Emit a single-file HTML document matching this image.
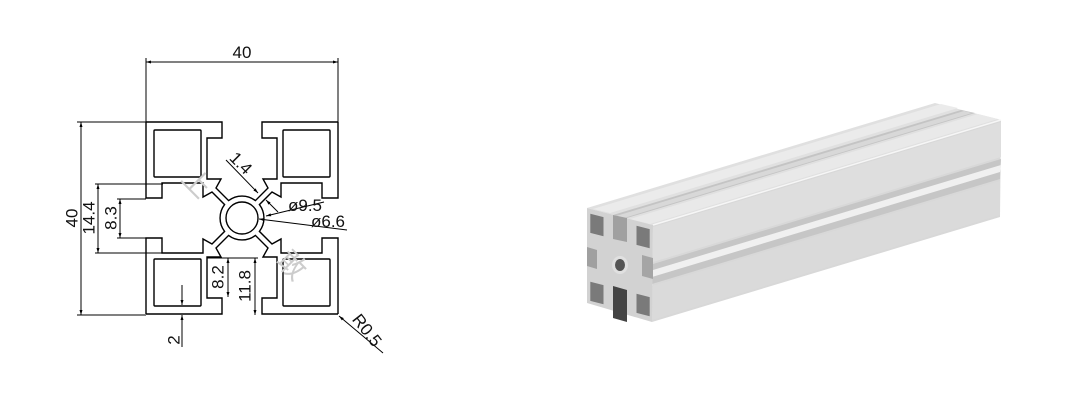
<!DOCTYPE html>
<html><head><meta charset="utf-8"><style>
html,body{margin:0;padding:0;background:#fff;width:1090px;height:400px;overflow:hidden}
svg{display:block}
text{font-family:"Liberation Sans","Noto Sans CJK SC",sans-serif;fill:#111}
</style></head><body>
<svg width="1090" height="400" viewBox="0 0 1090 400" xmlns="http://www.w3.org/2000/svg">
<defs>
<marker id="ar" viewBox="0 0 10 10" refX="10" refY="5" markerWidth="9" markerHeight="5" orient="auto-start-reverse" markerUnits="userSpaceOnUse">
<path d="M0,2 L10,5 L0,8 z" fill="#000"/></marker>
<g id="side" fill="none" stroke="#000" stroke-width="1.4">
<path d="M-96,-96 H-20 V-80 H-35 V-39 H-21 L-26,-30 L-13.4,-17.4 A22 22 0 0 1 13.4,-17.4 L26,-30 L21,-39 H35 V-80 H20 V-96 H96"/>
<rect x="-88" y="-88" width="47" height="47" rx="1"/>
</g>
</defs>

<g transform="translate(242,218)">
<use href="#side"/>
<use href="#side" transform="rotate(90)"/>
<use href="#side" transform="rotate(180)"/>
<use href="#side" transform="rotate(270)"/>
<circle r="16" fill="none" stroke="#000" stroke-width="1.4"/>
</g>

<g stroke="#000" stroke-width="1" fill="none">
<line x1="146" y1="58" x2="146" y2="122"/>
<line x1="338" y1="58" x2="338" y2="122"/>
<line x1="146" y1="62" x2="338" y2="62" marker-start="url(#ar)" marker-end="url(#ar)"/>
<line x1="77" y1="122" x2="146" y2="122"/>
<line x1="77" y1="315" x2="146" y2="315"/>
<line x1="81" y1="122" x2="81" y2="315" marker-start="url(#ar)" marker-end="url(#ar)"/>
<line x1="95" y1="184" x2="163" y2="184"/>
<line x1="95" y1="253" x2="163" y2="253"/>
<line x1="98" y1="184" x2="98" y2="253" marker-start="url(#ar)" marker-end="url(#ar)"/>
<line x1="117" y1="199" x2="146" y2="199"/>
<line x1="117" y1="238" x2="146" y2="238"/>
<line x1="120" y1="199" x2="120" y2="238" marker-start="url(#ar)" marker-end="url(#ar)"/>
<line x1="182" y1="285" x2="182" y2="305" marker-end="url(#ar)"/>
<line x1="182" y1="347" x2="182" y2="315" marker-end="url(#ar)"/>
<line x1="207" y1="258" x2="258" y2="258"/>
<line x1="228" y1="258" x2="228" y2="297" marker-start="url(#ar)" marker-end="url(#ar)"/>
<line x1="255" y1="258" x2="255" y2="315" marker-start="url(#ar)" marker-end="url(#ar)"/>
<line x1="226" y1="160" x2="258" y2="193" marker-end="url(#ar)"/>
<line x1="278" y1="212" x2="266" y2="200" marker-end="url(#ar)"/>
<line x1="324" y1="202" x2="266" y2="216" marker-end="url(#ar)"/>
<line x1="347" y1="230" x2="259" y2="219" marker-end="url(#ar)"/>
<line x1="383" y1="353" x2="339" y2="316" marker-end="url(#ar)"/>
</g>

<g font-size="17">
<text x="242" y="58" text-anchor="middle">40</text>
<text transform="translate(73,218) rotate(-90)" text-anchor="middle" dominant-baseline="middle">40</text>
<text transform="translate(90,218) rotate(-90)" text-anchor="middle" dominant-baseline="middle">14.4</text>
<text transform="translate(112,218) rotate(-90)" text-anchor="middle" dominant-baseline="middle">8.3</text>
<text transform="translate(175,340) rotate(-90)" text-anchor="middle" dominant-baseline="middle">2</text>
<text transform="translate(219,277) rotate(-90)" text-anchor="middle" dominant-baseline="middle">8.2</text>
<text transform="translate(246,286) rotate(-90)" text-anchor="middle" dominant-baseline="middle">11.8</text>
<text transform="translate(240,164) rotate(45)" text-anchor="middle" dominant-baseline="middle">1.4</text>
<text x="305" y="211" text-anchor="middle">ø9.5</text>
<text x="328" y="227" text-anchor="middle">ø6.6</text>
<text transform="translate(366,331) rotate(52)" text-anchor="middle" dominant-baseline="middle">R0.5</text>
</g>
<g font-size="28">
<text transform="translate(180,180) rotate(45)" style="fill:#ccc">上</text>
<text transform="translate(275,262) rotate(45)" style="fill:#ccc">敢</text>
</g>

<g>
<polygon points="587,208 653,225 1001,120 935,103" fill="#e0e0e0"/>
<polygon points="593,209 610,213 958,108 941,104" fill="#ebebeb"/>
<polygon points="613,215 627,218 975,113 961,110" fill="#c4c4c4"/>
<polygon points="616,216 624,218 972,113 964,111" fill="#d8d8d8"/>
<polygon points="630,219 650,224 998,119 978,114" fill="#e9e9e9"/>
<polygon points="653,225 652,322 1000,217 1001,120" fill="#d8d8d8"/>
<polygon points="653,227 653,262 1001,157 1001,122" fill="#dedede"/>
<polygon points="653,264 652,284 1000,179 1001,159" fill="#c6c6c6"/>
<polygon points="653,270 652,277 1000,172 1001,165" fill="#f0f0f0"/>
<polygon points="652,286 652,320 1000,215 1000,181" fill="#dadada"/>
<line x1="653" y1="225" x2="1001" y2="120" stroke="#f6f6f6" stroke-width="1.5"/>
<polygon points="587,208 653,225 652,322 587,303" fill="#d2d2d2"/>
<polygon points="613,215 627,218 627,242 613,239" fill="#a0a0a0"/>
<polygon points="587,247 597,250 597,269 587,266" fill="#a0a0a0"/>
<polygon points="613,286 627,290 627,322 613,318" fill="#444"/>
<polygon points="642,255 653,258 653,279 642,276" fill="#a5a5a5"/>
<polygon points="590.3,213.7 603.5,217.1 603.5,236.3 590.3,232.9" fill="#7a7a7a"/>
<polygon points="636.5,225.7 649.7,229.1 649.7,248.3 636.5,244.9" fill="#7a7a7a"/>
<polygon points="590.3,281.7 603.5,285.1 603.5,304.3 590.3,300.9" fill="#7a7a7a"/>
<polygon points="636.5,293.7 649.7,297.1 649.7,316.3 636.5,312.9" fill="#7a7a7a"/>
<ellipse cx="620" cy="265" rx="8" ry="9" fill="#e0e0e0"/>
<ellipse cx="620" cy="265" rx="5" ry="6" fill="#555"/>
</g>
</svg>
</body></html>
